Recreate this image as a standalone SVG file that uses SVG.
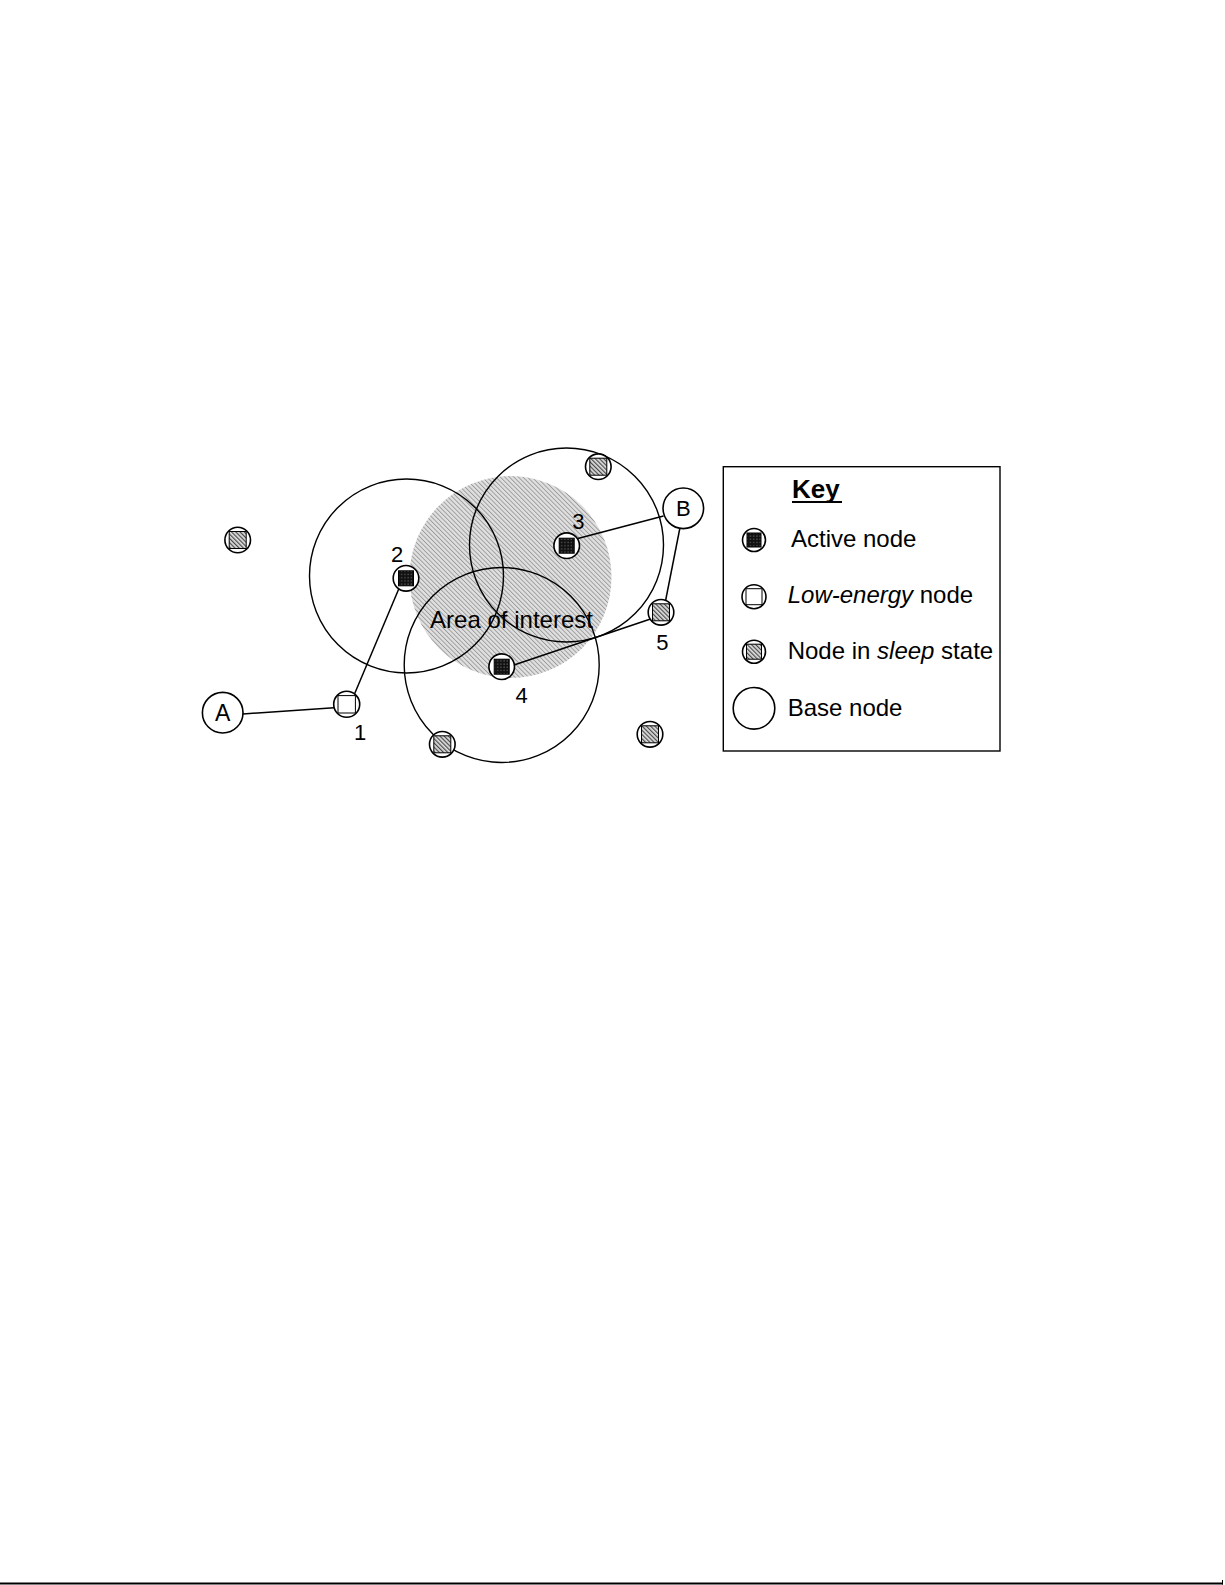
<svg xmlns="http://www.w3.org/2000/svg" width="1225" height="1585" viewBox="0 0 1225 1585">
<defs>
<pattern id="areaHatch" patternUnits="userSpaceOnUse" width="3.2" height="3.2" patternTransform="rotate(-45)">
<rect width="3.2" height="3.2" fill="#e0e0e0"/>
<rect x="0" width="0.9" height="3.2" fill="#999"/>
</pattern>
<pattern id="sleepHatch" patternUnits="userSpaceOnUse" width="3" height="3" patternTransform="rotate(-45)">
<rect width="3" height="3" fill="#dedede"/>
<rect x="0" width="1.2" height="3" fill="#4a4a4a"/>
</pattern>
<pattern id="activeDots" patternUnits="userSpaceOnUse" width="3.2" height="3.2">
<rect width="3.2" height="3.2" fill="#111"/>
<rect x="1.2" y="1.2" width="1" height="1" fill="#888"/>
</pattern>
<style>
.ring{fill:#fff;stroke:#000;stroke-width:1.6}
.big{fill:none;stroke:#000;stroke-width:1.4}
.sq{stroke:#000;stroke-width:1}
.act{fill:url(#activeDots)}
.sleep{fill:url(#sleepHatch)}
.low{fill:#fff}
.conn{stroke:#000;stroke-width:1.5;fill:none}
.t{font-family:"Liberation Sans",Arial,sans-serif;fill:#000}
</style>
</defs>
<rect width="1225" height="1585" fill="#fff"/>

<g id="area-of-interest">
<circle cx="510.5" cy="577" r="101" fill="url(#areaHatch)"/>
</g>
<g id="ranges">
<circle class="big" cx="406.5" cy="576" r="97"/>
<circle class="big" cx="566.5" cy="545" r="97"/>
<circle class="big" cx="501.7" cy="665" r="97.5"/>
</g>
<text class="t" x="430" y="628" font-size="24" textLength="163" lengthAdjust="spacingAndGlyphs">Area of interest</text>

<g id="connectors">
<line class="conn" x1="243" y1="714" x2="334" y2="707.7"/>
<line class="conn" x1="354.5" y1="694" x2="400" y2="586"/>
<line class="conn" x1="576" y1="539" x2="663.5" y2="516"/>
<line class="conn" x1="680" y1="527.5" x2="665.5" y2="601"/>
<line class="conn" x1="650.5" y1="619" x2="514" y2="665"/>
</g>

<g id="node-A">
<circle class="ring" cx="222.7" cy="712.7" r="20.3"/>
<text class="t" x="222.7" y="720.5" font-size="23" text-anchor="middle">A</text>
</g>
<g id="node-B">
<circle class="ring" cx="683.3" cy="508.3" r="20.3"/>
<text class="t" x="683.3" y="516.3" font-size="22" text-anchor="middle">B</text>
</g>

<g id="node-1">
<circle class="ring" cx="346.7" cy="704.3" r="13"/>
<rect class="sq low" x="338" y="695.6" width="17.4" height="17.4"/>
<text class="t" x="360" y="739.5" font-size="22" text-anchor="middle">1</text>
</g>
<g id="node-2">
<circle class="ring" cx="406" cy="578.3" r="12.8"/>
<rect class="sq act" x="398.5" y="570.8" width="15" height="15"/>
<text class="t" x="397" y="562" font-size="22" text-anchor="middle">2</text>
</g>
<g id="node-3">
<circle class="ring" cx="566.7" cy="545.7" r="12.8"/>
<rect class="sq act" x="559.2" y="538.2" width="15" height="15"/>
<text class="t" x="578.3" y="528.5" font-size="22" text-anchor="middle">3</text>
</g>
<g id="node-4">
<circle class="ring" cx="501.7" cy="666.7" r="12.8"/>
<rect class="sq act" x="494.2" y="659.2" width="15" height="15"/>
<text class="t" x="521.7" y="702.5" font-size="22" text-anchor="middle">4</text>
</g>
<g id="node-5">
<circle class="ring" cx="661" cy="612.3" r="12.8"/>
<rect class="sq sleep" x="652.5" y="603.8" width="17" height="17"/>
<text class="t" x="662.3" y="650" font-size="22" text-anchor="middle">5</text>
</g>

<g id="sleep-left">
<circle class="ring" cx="237.7" cy="540" r="12.8"/>
<rect class="sq sleep" x="229.2" y="531.5" width="17" height="17"/>
</g>
<g id="sleep-top">
<circle class="ring" cx="598.3" cy="466.7" r="12.8"/>
<rect class="sq sleep" x="589.8" y="458.2" width="17" height="17"/>
</g>
<g id="sleep-bottom-left">
<circle class="ring" cx="442.3" cy="744.3" r="12.8"/>
<rect class="sq sleep" x="433.8" y="735.8" width="17" height="17"/>
</g>
<g id="sleep-bottom-right">
<circle class="ring" cx="650" cy="734.3" r="12.8"/>
<rect class="sq sleep" x="641.5" y="725.8" width="17" height="17"/>
</g>

<g id="key">
<rect x="723.3" y="466.7" width="276.7" height="284.3" fill="#fff" stroke="#000" stroke-width="1.4"/>
<text class="t" x="792" y="498" font-size="26" font-weight="bold">Key</text>
<line x1="792" y1="502" x2="842" y2="502" stroke="#000" stroke-width="2"/>
<circle class="ring" cx="754" cy="540" r="11.5"/>
<rect class="sq act" x="747" y="533" width="14" height="14"/>
<text class="t" x="791" y="546.7" font-size="24">Active node</text>
<circle class="ring" cx="754" cy="596.7" r="12"/>
<rect class="sq low" x="746" y="588.7" width="16" height="16"/>
<text class="t" x="787.7" y="603.3" font-size="24"><tspan font-style="italic">Low-energy</tspan> node</text>
<circle class="ring" cx="754" cy="651.7" r="11.5"/>
<rect class="sq sleep" x="746.5" y="644.2" width="15" height="15"/>
<text class="t" x="787.7" y="659" font-size="24">Node in <tspan font-style="italic">sleep</tspan> state</text>
<circle class="ring" cx="754" cy="708.3" r="20.8"/>
<text class="t" x="787.7" y="715.7" font-size="24">Base node</text>
</g>

<g id="page-rule">
<line x1="0" y1="1583.5" x2="1223" y2="1583.5" stroke="#000" stroke-width="2"/>
<line x1="1222.5" y1="1580" x2="1222.5" y2="1584.5" stroke="#000" stroke-width="1"/>
</g>
</svg>
